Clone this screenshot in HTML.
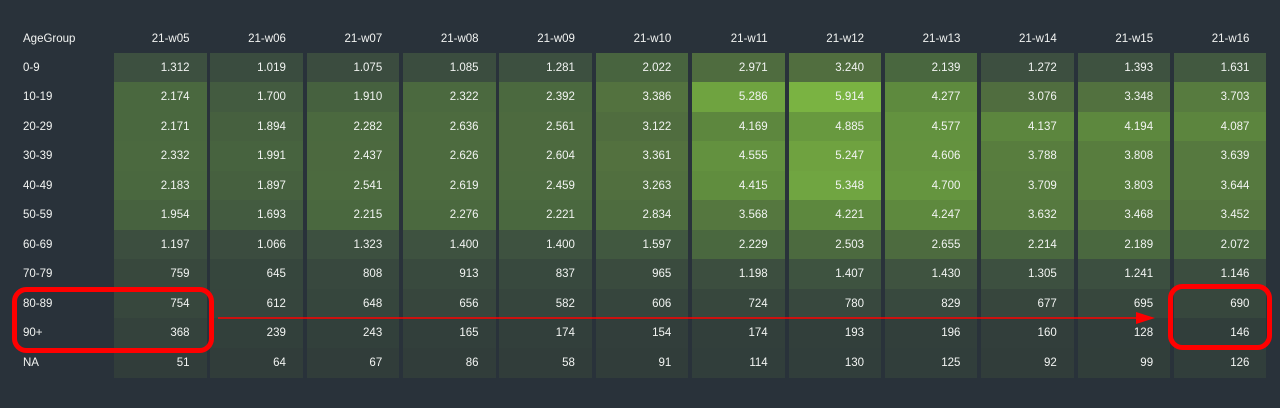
<!DOCTYPE html>
<html><head><meta charset="utf-8"><style>
html,body{margin:0;padding:0;background:#29323a;width:1280px;height:408px;overflow:hidden;font-family:"Liberation Sans",sans-serif}
#c{position:relative;width:1280px;height:408px}
.t{position:absolute;color:#f2f4f2;font-size:11.5px;line-height:14px;white-space:nowrap}
.cell{position:absolute}
</style></head><body>
<div id="c"></div>
<svg width="1280" height="408" style="position:absolute;left:0;top:0">
<rect x="14.5" y="289.5" width="197" height="61" rx="12" fill="none" stroke="#ff0000" stroke-width="5"/>
<rect x="1170.5" y="286.5" width="99" height="61" rx="12" fill="none" stroke="#ff0000" stroke-width="5"/>
<line x1="218" y1="318" x2="1140" y2="318" stroke="#ff0000" stroke-width="1.6"/>
<polygon points="1136,312 1155,318 1136,324" fill="#ff0000"/>
</svg>
<script>
const weeks=["21-w05","21-w06","21-w07","21-w08","21-w09","21-w10","21-w11","21-w12","21-w13","21-w14","21-w15","21-w16"];
const ageGroups=["0-9","10-19","20-29","30-39","40-49","50-59","60-69","70-79","80-89","90+","NA"];
const values=[
[1312,1019,1075,1085,1281,2022,2971,3240,2139,1272,1393,1631],
[2174,1700,1910,2322,2392,3386,5286,5914,4277,3076,3348,3703],
[2171,1894,2282,2636,2561,3122,4169,4885,4577,4137,4194,4087],
[2332,1991,2437,2626,2604,3361,4555,5247,4606,3788,3808,3639],
[2183,1897,2541,2619,2459,3263,4415,5348,4700,3709,3803,3644],
[1954,1693,2215,2276,2221,2834,3568,4221,4247,3632,3468,3452],
[1197,1066,1323,1400,1400,1597,2229,2503,2655,2214,2189,2072],
[759,645,808,913,837,965,1198,1407,1430,1305,1241,1146],
[754,612,648,656,582,606,724,780,829,677,695,690],
[368,239,243,165,174,154,174,193,196,160,128,146],
[51,64,67,86,58,91,114,130,125,92,99,126]];
const stops=[[0,[48,60,58]],[1312,[61,80,64]],[2174,[74,104,63]],[3240,[81,110,63]],[4277,[94,138,62]],[5914,[122,179,66]]];
function color(v){for(let i=1;i<stops.length;i++){if(v<=stops[i][0]||i==stops.length-1){const a=stops[i-1],b=stops[i];let t=(v-a[0])/(b[0]-a[0]);t=Math.max(0,Math.min(1,t));return 'rgb('+a[1].map((c,k)=>Math.round(c+(b[1][k]-c)*t)).join(',')+')';}}}
function fmt(v){return v>=1000?Math.floor(v/1000)+'.'+String(v%1000).padStart(3,'0'):String(v);}
const colX=i=>114+i*96.36, colW=92.5, rowY=j=>53+j*29.45, rowH=29.45;
const c=document.getElementById('c');
const hl=document.createElement('div');hl.className='t';hl.style.left='23px';hl.style.top='32px';hl.textContent='AgeGroup';


c.appendChild(hl);
weeks.forEach((w,i)=>{const d=document.createElement('div');d.className='t';d.style.left=colX(i)+'px';d.style.width=(colW-17)+'px';d.style.textAlign='right';d.style.top='32px';d.textContent=w;


c.appendChild(d);});
ageGroups.forEach((g,j)=>{const d=document.createElement('div');d.className='t';d.style.left='23px';d.style.top=(rowY(j)+8)+'px';d.textContent=g;


c.appendChild(d);
values[j].forEach((v,i)=>{const e=document.createElement('div');e.className='cell';e.style.left=colX(i)+'px';e.style.top=rowY(j)+'px';e.style.width=colW+'px';e.style.height=(rowH+0.6)+'px';e.style.background=color(v);


c.appendChild(e);
const t=document.createElement('div');t.className='t';t.style.left=colX(i)+'px';t.style.width=(colW-17)+'px';t.style.textAlign='right';t.style.top=(rowY(j)+8)+'px';t.textContent=fmt(v);


c.appendChild(t);});});
</script>
</body></html>
